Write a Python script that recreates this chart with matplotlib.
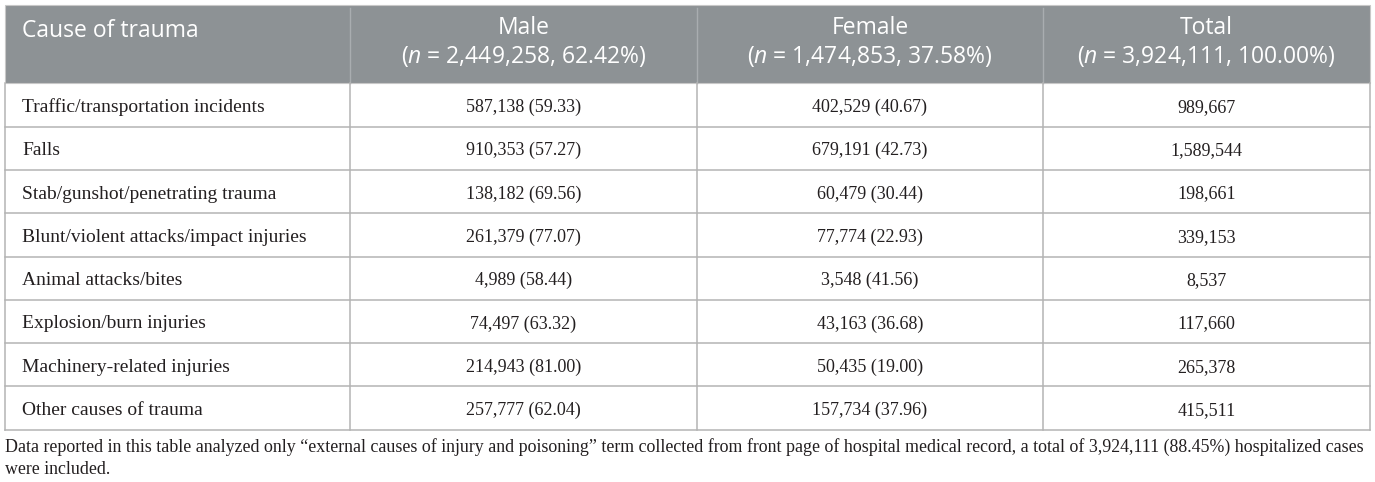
import matplotlib.pyplot as plt
from matplotlib.patches import Rectangle

plt.rcParams['mathtext.fontset'] = 'custom'
plt.rcParams['mathtext.rm'] = 'Open Sans'
plt.rcParams['mathtext.it'] = 'Open Sans:italic'

# table content
header_first = "Cause of trauma"
group_names = ["Male", "Female", "Total"]
group_n = ["2,449,258", "1,474,853", "3,924,111"]
group_pct = ["62.42%", "37.58%", "100.00%"]

causes = [
    "Traffic/transportation incidents",
    "Falls",
    "Stab/gunshot/penetrating trauma",
    "Blunt/violent attacks/impact injuries",
    "Animal attacks/bites",
    "Explosion/burn injuries",
    "Machinery-related injuries",
    "Other causes of trauma",
]
male = ["587,138 (59.33)", "910,353 (57.27)", "138,182 (69.56)", "261,379 (77.07)",
        "4,989 (58.44)", "74,497 (63.32)", "214,943 (81.00)", "257,777 (62.04)"]
female = ["402,529 (40.67)", "679,191 (42.73)", "60,479 (30.44)", "77,774 (22.93)",
          "3,548 (41.56)", "43,163 (36.68)", "50,435 (19.00)", "157,734 (37.96)"]
total = ["989,667", "1,589,544", "198,661", "339,153",
         "8,537", "117,660", "265,378", "415,511"]

footnote = ("Data reported in this table analyzed only \u201cexternal causes of injury and poisoning\u201d "
            "term collected from front page of hospital medical record, a total of 3,924,111 (88.45%) "
            "hospitalized cases\nwere included.")

# layout (pixels)
W, H = 1375, 482
col_edges = [5, 350, 697, 1043, 1370]
head_top, head_bot = 5, 83.3
row_h = 43.3
header_bg = '#8d9295'
grid_col = '#b4b4b4'
text_col = '#231f20'
serif = 'Liberation Serif'
sans = 'Open Sans'

fig = plt.figure(figsize=(W / 100, H / 100), dpi=100)
ax = fig.add_axes([0, 0, 1, 1])
ax.set_xlim(0, W)
ax.set_ylim(H, 0)
ax.axis('off')

# header
ax.add_patch(Rectangle((col_edges[0], head_top), col_edges[-1] - col_edges[0],
                       head_bot - head_top, facecolor=header_bg, edgecolor='#c8c8c8', lw=0.8))
for x in col_edges[1:-1]:
    ax.plot([x, x], [head_top + 3, head_bot], color='#a9adb0', lw=1.0)

ax.text(col_edges[0] + 17, 31, header_first, color='white', fontsize=16.5,
        family=sans, ha='left', va='center')
for i, name in enumerate(group_names):
    cx = (col_edges[i + 1] + col_edges[i + 2]) / 2
    ax.text(cx, 28, name, color='white', fontsize=16.5, family=sans, ha='center', va='center')
    ax.text(cx, 56.5, "($\\mathit{n}$ = %s, %s)" % (group_n[i], group_pct[i]),
            color='white', fontsize=16.5, family=sans, ha='center', va='center')

# body grid
n_rows = len(causes)
bottom = head_bot + n_rows * row_h
for k in range(1, n_rows + 1):
    y = head_bot + k * row_h
    ax.plot([col_edges[0], col_edges[-1]], [y, y], color=grid_col, lw=1.1)
for x in col_edges:
    ax.plot([x, x], [head_bot, bottom], color=grid_col, lw=1.1)

# body text
for k in range(n_rows):
    cy = head_bot + (k + 0.5) * row_h + 2.5
    ax.text(col_edges[0] + 17, cy, causes[k], color=text_col, fontsize=14,
            family=serif, ha='left', va='center')
    for j, vals in enumerate([male, female, total]):
        cx = (col_edges[j + 1] + col_edges[j + 2]) / 2
        ax.text(cx, cy, vals[k], color=text_col, fontsize=13, family=serif,
                ha='center', va='center')

ax.text(col_edges[0], 438, footnote, color=text_col, fontsize=12.9, family=serif,
        ha='left', va='top', linespacing=1.4)

fig.savefig('out.png', dpi=100)
